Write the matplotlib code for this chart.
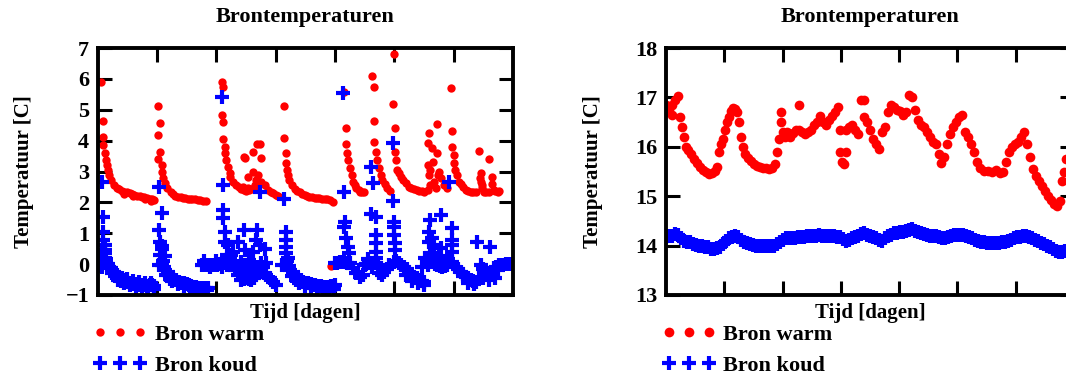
import matplotlib
matplotlib.use('Agg')
import matplotlib.pyplot as plt
import numpy as np

plt.rcParams['font.family'] = ['Liberation Serif', 'DejaVu Serif']
plt.rcParams['font.weight'] = 'bold'

# --- linker grafiek: meetpunten (tijd [dagen], temperatuur [C]) ---
warm_links = [
    # piek 1
    (0.06, 5.91), (0.10, 4.64), (0.10, 4.13), (0.10, 3.86), (0.13, 3.59), (0.14, 3.37),
    (0.16, 3.21), (0.18, 3.05), (0.20, 2.89), (0.23, 2.72), (0.27, 2.56), (0.33, 2.46),
    (0.37, 2.42), (0.41, 2.38), (0.45, 2.35), (0.45, 2.28), (0.50, 2.33), (0.54, 2.30),
    (0.58, 2.27), (0.60, 2.20), (0.62, 2.25), (0.67, 2.22), (0.71, 2.20), (0.75, 2.18),
    (0.79, 2.16), (0.80, 2.10), (0.84, 2.15), (0.88, 2.12), (0.90, 2.05), (0.92, 2.11),
    (0.96, 2.08),
    # piek 2
    (1.02, 5.12), (1.05, 4.56), (1.02, 4.18), (1.05, 3.64), (1.02, 3.39), (1.08, 3.21),
    (1.08, 2.97), (1.10, 2.78), (1.13, 2.62), (1.17, 2.48), (1.23, 2.35), (1.27, 2.28),
    (1.31, 2.22), (1.36, 2.19), (1.40, 2.16), (1.44, 2.14), (1.48, 2.13), (1.52, 2.12),
    (1.56, 2.11), (1.60, 2.10), (1.65, 2.10), (1.69, 2.09), (1.73, 2.08), (1.78, 2.06),
    (1.82, 2.04),
    # piek 3
    (2.10, 5.91), (2.12, 5.75), (2.10, 4.83), (2.12, 4.61), (2.12, 4.04), (2.15, 3.80),
    (2.15, 3.59), (2.17, 3.37), (2.20, 3.16), (2.23, 2.94), (2.23, 2.83), (2.28, 2.67),
    (2.34, 2.56), (2.38, 2.49), (2.42, 2.43), (2.46, 2.40), (2.51, 2.38), (2.55, 2.40),
    (2.59, 2.43), (2.63, 2.48), (2.48, 3.43), (2.46, 3.46), (2.62, 3.64), (2.73, 3.88),
    (2.69, 3.88), (2.76, 3.43), (2.62, 3.00), (2.54, 2.83), (2.70, 2.89), (2.76, 2.67),
    (2.82, 2.56), (2.87, 2.40), (2.92, 2.33), (2.96, 2.29), (3.00, 2.25), (3.04, 2.22),
    (2.45, 2.51), (2.54, 2.46), (2.65, 2.56), (2.67, 2.72),
    # piek 4
    (3.14, 5.12), (3.15, 4.08), (3.18, 3.59), (3.18, 3.27), (3.20, 3.05), (3.21, 2.89),
    (3.23, 2.72), (3.27, 2.56), (3.32, 2.43), (3.36, 2.38), (3.41, 2.33), (3.45, 2.28),
    (3.49, 2.24), (3.53, 2.21), (3.57, 2.18), (3.62, 2.16), (3.66, 2.15), (3.70, 2.14),
    (3.74, 2.13), (3.79, 2.12), (3.83, 2.11), (3.87, 2.10), (3.91, 2.08), (3.97, 2.02),
    (3.94, -0.05),
    # piek 5
    (4.16, 5.58), (4.19, 4.40), (4.19, 3.88), (4.21, 3.59), (4.22, 3.37), (4.25, 3.10),
    (4.28, 2.89), (4.30, 2.67), (4.33, 2.57), (4.36, 2.48), (4.40, 2.41), (4.43, 2.35),
    (4.46, 2.35), (4.49, 2.35),
    # piek 6
    (4.63, 6.10), (4.66, 5.75), (4.65, 4.64), (4.66, 3.97), (4.69, 3.64), (4.71, 3.37),
    (4.74, 3.10), (4.77, 2.89), (4.80, 2.72), (4.84, 2.58), (4.88, 2.45), (4.93, 2.38),
    # piek 7
    (4.99, 6.80), (4.98, 5.18), (5.01, 4.40), (5.02, 3.64), (5.03, 3.37), (5.05, 3.05),
    (5.08, 2.94), (5.11, 2.83), (5.15, 2.72), (5.19, 2.62), (5.25, 2.51), (5.29, 2.47),
    (5.33, 2.43), (5.38, 2.40), (5.42, 2.38), (5.46, 2.36), (5.50, 2.35), (5.56, 2.40),
    (5.56, 3.91), (5.58, 4.24), (5.72, 4.53), (5.64, 3.75), (5.72, 3.59), (5.56, 3.21),
    (5.58, 2.89), (5.67, 2.67), (5.75, 3.00), (5.78, 2.78), (5.84, 2.56), (5.61, 2.56),
    (5.70, 2.46), (5.60, 3.05), (5.66, 3.30), (5.74, 2.90), (5.88, 2.45),
    # piek 8
    (5.95, 5.69), (5.98, 4.31), (5.98, 3.80), (6.00, 3.53), (6.01, 3.27), (6.03, 3.05),
    (6.06, 2.89), (6.09, 2.67), (6.12, 2.58), (6.15, 2.51), (6.20, 2.40), (6.25, 2.37),
    (6.29, 2.35), (6.33, 2.34), (6.37, 2.33),
    # einde
    (6.43, 3.66), (6.60, 3.40), (6.46, 2.94), (6.46, 2.67), (6.48, 2.46), (6.51, 2.35),
    (6.55, 2.35), (6.60, 2.35), (6.65, 2.83), (6.65, 2.60), (6.68, 2.40), (6.74, 2.35),
    (6.76, 2.37), (6.45, 2.80), (6.47, 2.55), (6.70, 2.38),
]

koud_links = [
    # piek 1
    (0.08, 2.65), (0.10, 1.54), (0.10, 1.05), (0.10, 0.78), (0.13, 0.62), (0.13, 0.35),
    (0.13, 0.19), (0.05, 0.03), (0.02, 0.10), (0.05, 0.25), (0.08, 0.40), (0.12, 0.45),
    (0.15, 0.15), (0.18, 0.00), (0.20, -0.08), (0.02, -0.05), (0.08, -0.10),
    (0.16, -0.03), (0.22, -0.14), (0.27, -0.25), (0.33, -0.35), (0.37, -0.41),
    (0.41, -0.46), (0.46, -0.52), (0.50, -0.57), (0.54, -0.60), (0.58, -0.62),
    (0.62, -0.64), (0.67, -0.65), (0.71, -0.67), (0.75, -0.68), (0.79, -0.69),
    (0.83, -0.70), (0.88, -0.69), (0.92, -0.68), (0.96, -0.70),
    (0.45, -0.62), (0.55, -0.68), (0.65, -0.75), (0.75, -0.78), (0.85, -0.80),
    (0.95, -0.80), (0.50, -0.48), (0.60, -0.55), (0.70, -0.58), (0.80, -0.60),
    (0.90, -0.62), (0.25, -0.30), (0.30, -0.40), (0.35, -0.50), (0.40, -0.55),
    # piek 2
    (1.03, 2.51), (1.08, 1.65), (1.03, 1.10), (1.06, 0.73), (1.09, 0.49), (1.13, 0.27),
    (1.06, 0.30), (1.08, 0.60), (1.03, -0.03), (1.09, -0.03), (1.10, 0.10), (1.12, -0.10),
    (1.14, -0.19), (1.18, -0.25), (1.20, -0.35), (1.24, -0.41), (1.28, -0.46),
    (1.32, -0.52), (1.37, -0.57), (1.41, -0.60), (1.45, -0.62), (1.50, -0.65),
    (1.54, -0.68), (1.58, -0.70), (1.62, -0.73), (1.66, -0.75), (1.70, -0.76),
    (1.75, -0.77), (1.79, -0.78), (1.83, -0.77), (1.87, -0.76),
    (1.25, -0.55), (1.35, -0.65), (1.45, -0.72), (1.55, -0.78), (1.65, -0.82),
    (1.75, -0.85), (1.85, -0.85), (1.16, -0.35), (1.22, -0.48),
    # piek 3
    (2.09, 5.42), (2.12, 2.56), (2.12, 1.75), (2.12, 1.48), (2.15, 1.05), (2.15, 0.73),
    (2.18, 0.30), (1.76, -0.03), (1.81, -0.03), (1.85, -0.03), (1.89, -0.02),
    (1.93, -0.03), (1.97, -0.02), (2.01, -0.03), (2.05, 0.00), (2.10, 0.03), (2.14, 0.05),
    (2.18, -0.03), (2.24, 0.08), (1.80, 0.10), (1.90, -0.10), (2.00, 0.10), (2.10, -0.10),
    (2.20, 0.12), (2.20, 0.62), (2.23, 0.19), (2.25, -0.03), (2.31, -0.19), (2.37, -0.35),
    (2.42, -0.51), (2.46, -0.48), (2.51, -0.46), (2.55, -0.48), (2.59, -0.51),
    (2.63, -0.45), (2.67, -0.35), (2.72, -0.30), (2.76, -0.25), (2.80, -0.30),
    (2.84, -0.35), (2.90, -0.46), (2.96, -0.57), (3.01, -0.68),
    (2.20, 0.25), (2.25, 0.30), (2.30, 0.05), (2.35, -0.05), (2.40, -0.25), (2.45, -0.30),
    (2.50, -0.20), (2.60, -0.15), (2.70, -0.10), (2.78, -0.10),
    (2.47, 1.10), (2.69, 1.10), (2.37, 0.73), (2.67, 0.78), (2.82, 0.49), (2.48, 0.46),
    (2.62, 0.40), (2.73, 0.62), (2.56, 0.13), (2.76, 0.03), (2.84, 0.03), (2.42, 0.08),
    (2.28, 0.40), (2.73, 2.35),
    # piek 4
    (3.14, 2.11), (3.18, 1.05), (3.18, 0.78), (3.18, 0.56), (3.18, 0.35), (3.21, 0.19),
    (3.10, -0.03), (3.18, -0.03), (3.20, 0.10), (3.22, -0.05), (3.24, -0.19),
    (3.29, -0.35), (3.30, -0.25), (3.34, -0.41), (3.38, -0.46), (3.42, -0.52),
    (3.46, -0.57), (3.51, -0.60), (3.55, -0.62), (3.59, -0.65), (3.63, -0.68),
    (3.67, -0.69), (3.71, -0.70), (3.76, -0.72), (3.80, -0.73), (3.84, -0.73),
    (3.88, -0.73), (3.93, -0.72), (3.97, -0.70), (4.00, -0.68),
    (3.40, -0.60), (3.50, -0.70), (3.60, -0.78), (3.70, -0.80), (3.80, -0.85),
    (3.90, -0.85), (3.98, -0.80), (3.27, -0.40), (3.35, -0.52),
    # piek 5 t/m einde
    (4.14, 5.53), (4.16, 2.35), (4.17, 1.37), (4.16, 1.21), (4.19, 0.86), (4.22, 0.56),
    (4.23, 0.35), (4.00, 0.03), (4.04, 0.05), (4.08, 0.08), (4.12, 0.06), (4.16, 0.08),
    (4.20, 0.05), (4.25, 0.03), (4.30, -0.14), (4.36, -0.30), (4.42, -0.41),
    (4.47, -0.35), (4.50, -0.03),
    (4.60, 3.16), (4.64, 2.64), (4.60, 1.61), (4.69, 1.54), (4.69, 0.94), (4.69, 0.67),
    (4.69, 0.40), (4.49, -0.03), (4.53, 0.00), (4.57, 0.03), (4.63, 0.05), (4.69, 0.03),
    (4.73, -0.05), (4.77, -0.14), (4.83, -0.25), (4.87, -0.15), (4.91, -0.03),
    (4.55, 0.15), (4.62, -0.10), (4.70, 0.20), (4.75, -0.30), (4.80, -0.35),
    (4.97, 3.91), (4.97, 2.04), (4.99, 1.37), (4.99, 1.21), (4.99, 0.94), (5.01, 0.67),
    (5.02, 0.46), (4.99, 0.08), (5.03, 0.10), (5.08, 0.03), (5.12, -0.02), (5.16, -0.08),
    (5.21, -0.16), (5.25, -0.25), (5.29, -0.33), (5.33, -0.41), (5.38, -0.46),
    (5.42, -0.51), (5.46, -0.55), (5.50, -0.57), (5.20, -0.35), (5.30, -0.55),
    (5.40, -0.62), (5.50, -0.66), (5.47, -0.08), (5.56, -0.03),
    (5.61, 1.43), (5.58, 1.05), (5.64, 0.84), (5.58, 0.73), (5.78, 1.59), (5.67, 0.62),
    (5.78, 0.51), (5.60, 0.25), (5.52, 0.20), (5.62, 0.35), (5.75, 0.25), (5.90, 0.15),
    (5.64, 0.08), (5.68, 0.02), (5.72, -0.03), (5.77, -0.05), (5.81, -0.08),
    (5.85, -0.05), (5.89, -0.03),
    (5.92, 2.67), (5.98, 1.18), (5.98, 0.78), (5.98, 0.62), (5.98, 0.40), (5.98, 0.08),
    (6.03, -0.08), (6.08, -0.17), (6.12, -0.25), (6.16, -0.33), (6.20, -0.41),
    (6.25, -0.46), (6.29, -0.51), (6.33, -0.54), (6.37, -0.57), (6.43, -0.46),
    (6.15, -0.40), (6.25, -0.60), (6.35, -0.65),
    (6.40, 0.73), (6.46, -0.03), (6.50, -0.15), (6.54, -0.25), (6.58, -0.30),
    (6.61, 0.56), (6.63, -0.35), (6.68, -0.14), (6.72, -0.08), (6.76, -0.03),
    (6.50, -0.45), (6.60, -0.50), (6.70, -0.45), (6.75, -0.20),
    (6.82, -0.03), (6.88, 0.00), (6.94, 0.00), (6.98, 0.00),
]

# --- rechter grafiek ---
warm_rechts_t = [
    0.00, 0.00, 0.05, 0.10, 0.10, 0.15, 0.21, 0.24, 0.27, 0.31, 0.34, 0.38, 0.43, 0.48,
    0.53, 0.58, 0.63, 0.69, 0.74, 0.79, 0.84, 0.87, 0.91, 0.94, 0.98, 1.01, 1.05, 1.08,
    1.11, 1.15, 1.18, 1.22, 1.25, 1.29, 1.32, 1.36, 1.41, 1.46, 1.51, 1.56, 1.61, 1.66,
    1.72, 1.77, 1.82, 1.87, 1.90, 1.94, 1.97, 1.97, 2.01, 2.04, 2.08, 2.13, 2.18, 2.23,
    2.28, 2.28, 2.33, 2.38, 2.44, 2.49, 2.54, 2.59, 2.64, 2.69, 2.74, 2.80, 2.85, 2.90,
    2.95, 2.98, 2.98, 3.02, 3.05, 3.09, 3.09, 3.14, 3.19, 3.24, 3.29, 3.34, 3.40, 3.40,
    3.45, 3.50, 3.55, 3.60, 3.65, 3.70, 3.76, 3.81, 3.86, 3.91, 3.96, 4.01, 4.07, 4.12,
    4.17, 4.22, 4.27, 4.32, 4.37, 4.43, 4.48, 4.53, 4.58, 4.63, 4.68, 4.72, 4.77, 4.82,
    4.87, 4.92, 4.97, 5.03, 5.08, 5.13, 5.18, 5.23, 5.28, 5.33, 5.39, 5.45, 5.52, 5.59,
    5.66, 5.73, 5.78, 5.83, 5.88, 5.93, 5.99, 6.04, 6.09, 6.14, 6.19, 6.24, 6.30, 6.35,
    6.40, 6.45, 6.50, 6.55, 6.60, 6.66, 6.71, 6.76, 6.79, 6.83, 6.86,
]
warm_rechts_T = [
    16.70, 16.85, 16.75, 16.65, 16.85, 16.95, 17.02, 16.60, 16.40, 16.20, 16.00, 15.93,
    15.85, 15.75, 15.67, 15.60, 15.53, 15.50, 15.45, 15.47, 15.52, 15.60, 15.90, 16.05,
    16.15, 16.35, 16.50, 16.60, 16.72, 16.78, 16.76, 16.70, 16.50, 16.20, 16.00, 15.85,
    15.78, 15.72, 15.65, 15.61, 15.60, 15.58, 15.57, 15.56, 15.58, 15.65, 15.90, 16.15,
    16.50, 16.70, 16.30, 16.20, 16.30, 16.20, 16.28, 16.35, 16.85, 16.35, 16.30, 16.25,
    16.30, 16.35, 16.45, 16.50, 16.62, 16.50, 16.45, 16.55, 16.62, 16.70, 16.80, 16.35,
    15.90, 15.70, 15.65, 15.90, 16.35, 16.40, 16.45, 16.35, 16.25, 16.95, 16.95, 16.60,
    16.50, 16.35, 16.15, 16.05, 15.95, 16.30, 16.40, 16.70, 16.85, 16.80, 16.75, 16.72,
    16.65, 16.70, 17.05, 17.00, 16.75, 16.55, 16.45, 16.40, 16.30, 16.20, 16.10, 16.05,
    15.85, 15.68, 15.80, 16.05, 16.25, 16.40, 16.50, 16.60, 16.65, 16.30, 16.20, 16.05,
    15.90, 15.70, 15.57, 15.52, 15.52, 15.50, 15.53, 15.47, 15.50, 15.70, 15.90, 16.00,
    16.05, 16.10, 16.20, 16.30, 16.05, 15.80, 15.55, 15.40, 15.30, 15.20, 15.10, 15.00,
    14.92, 14.85, 14.80, 14.90, 15.30, 15.50, 15.75,
]

koud_rechts_t = [
    0.00, 0.05, 0.10, 0.15, 0.21, 0.26, 0.31, 0.36, 0.41, 0.46, 0.51, 0.57, 0.62, 0.67,
    0.72, 0.77, 0.82, 0.87, 0.93, 0.98, 1.03, 1.08, 1.13, 1.18, 1.23, 1.29, 1.34, 1.39,
    1.44, 1.49, 1.54, 1.60, 1.65, 1.70, 1.75, 1.80, 1.85, 1.91, 1.96, 2.01, 2.06, 2.11,
    2.16, 2.21, 2.26, 2.32, 2.37, 2.42, 2.47, 2.52, 2.57, 2.63, 2.68, 2.73, 2.78, 2.83,
    2.88, 2.93, 2.98, 3.04, 3.09, 3.14, 3.19, 3.24, 3.29, 3.35, 3.40, 3.45, 3.50, 3.55,
    3.60, 3.65, 3.70, 3.76, 3.81, 3.86, 3.91, 3.96, 4.01, 4.07, 4.12, 4.17, 4.22, 4.27,
    4.32, 4.38, 4.43, 4.48, 4.53, 4.58, 4.63, 4.68, 4.73, 4.79, 4.84, 4.89, 4.94, 4.99,
    5.04, 5.10, 5.15, 5.20, 5.25, 5.30, 5.35, 5.40, 5.45, 5.51, 5.56, 5.61, 5.66, 5.71,
    5.76, 5.82, 5.87, 5.92, 5.97, 6.02, 6.07, 6.12, 6.17, 6.23, 6.28, 6.33, 6.38, 6.43,
    6.48, 6.54, 6.59, 6.64, 6.69, 6.74, 6.79, 6.85, 6.90,
]
koud_rechts_T = [
    14.17, 14.20, 14.20, 14.24, 14.22, 14.15, 14.10, 14.08, 14.07, 14.04, 14.02, 14.00,
    14.00, 13.98, 13.97, 13.94, 13.93, 13.95, 13.98, 14.04, 14.10, 14.16, 14.18, 14.20,
    14.17, 14.12, 14.08, 14.05, 14.03, 14.01, 14.00, 14.00, 14.00, 13.99, 14.00, 14.00,
    14.00, 14.04, 14.08, 14.12, 14.15, 14.15, 14.15, 14.16, 14.17, 14.18, 14.18, 14.19,
    14.20, 14.20, 14.20, 14.21, 14.20, 14.20, 14.20, 14.20, 14.19, 14.18, 14.17, 14.13,
    14.10, 14.12, 14.15, 14.18, 14.20, 14.23, 14.25, 14.22, 14.20, 14.17, 14.15, 14.12,
    14.10, 14.15, 14.20, 14.22, 14.25, 14.26, 14.27, 14.28, 14.30, 14.32, 14.33, 14.30,
    14.28, 14.26, 14.24, 14.22, 14.20, 14.20, 14.20, 14.17, 14.15, 14.16, 14.18, 14.20,
    14.22, 14.22, 14.22, 14.21, 14.20, 14.17, 14.15, 14.12, 14.10, 14.08, 14.07, 14.06,
    14.05, 14.05, 14.05, 14.06, 14.07, 14.08, 14.10, 14.12, 14.15, 14.17, 14.18, 14.19,
    14.20, 14.17, 14.15, 14.12, 14.10, 14.06, 14.03, 14.00, 13.97, 13.93, 13.90, 13.88,
    13.88, 13.89, 13.90,
]

titel = 'Brontemperaturen'
xlabel = 'Tijd [dagen]'
ylabel = 'Temperatuur [C]'
labels = ['Bron warm', 'Bron koud']

W, H = 1066, 374
fig = plt.figure(figsize=(W / 100, H / 100), dpi=100)
ax1 = fig.add_axes([97.5 / W, 79 / H, 415.5 / W, 247 / H])
ax2 = fig.add_axes([666 / W, 79 / H, 408 / W, 247 / H])


def opmaak(ax, ylo, yhi, breedte):
    ax.set_xlim(0, 7)
    ax.set_ylim(ylo, yhi)
    ax.set_xticks(range(1, 7))
    ax.set_yticks(range(ylo, yhi + 1))
    ax.tick_params(direction='in', length=10, width=2.2, top=True, right=True,
                   labelbottom=False, labelsize=16, pad=6)
    for s in ax.spines.values():
        s.set_linewidth(2.8)
    ax.set_title(titel, fontsize=16, fontweight='bold', y=1 + 23 / 247, va='center')
    ax.set_xlabel(xlabel, fontsize=15, fontweight='bold')
    ax.xaxis.set_label_coords(0.5, -18 / 247)
    ax.xaxis.label.set_va('center')
    ax.set_ylabel(ylabel, fontsize=15, fontweight='bold')
    ax.yaxis.set_label_coords(-73 / breedte, 0.5)
    ax.yaxis.label.set_va('center')
    ax.legend(loc='upper left', bbox_to_anchor=(-4 / breedte, -29 / 247),
              frameon=False, numpoints=3, fontsize=16, handlelength=2.4,
              handletextpad=0.36, borderpad=0, borderaxespad=0, labelspacing=0.47)


wl = np.array(warm_links)
kl = np.array(koud_links)
ax1.plot(wl[:, 0], wl[:, 1], 'o', color='red', ms=6, mew=0, label=labels[0])
ax1.plot(kl[:, 0], kl[:, 1], '+', color='blue', ms=10, mew=3, label=labels[1])
opmaak(ax1, -1, 7, 415.5)

ax2.plot(warm_rechts_t, warm_rechts_T, 'o', color='red', ms=7, mew=0, label=labels[0])
ax2.plot(koud_rechts_t, koud_rechts_T, '+', color='blue', ms=10, mew=3, label=labels[1])
opmaak(ax2, 13, 18, 408)

fig.savefig('out.png', dpi=100)
